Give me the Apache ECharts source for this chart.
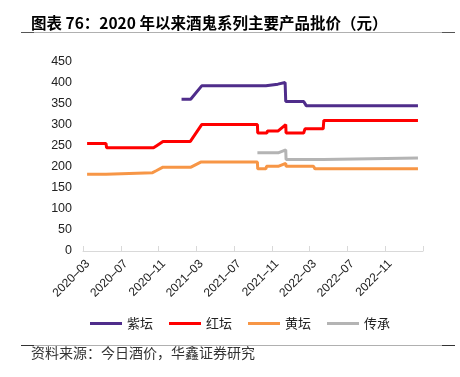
<!DOCTYPE html>
<html>
<head>
<meta charset="utf-8">
<script src="https://cdn.jsdelivr.net/npm/echarts@6/dist/echarts.min.js"></script>
<style>
html,body{margin:0;padding:0;background:#fff;}
#c{width:460px;height:377px;}
</style>
</head>
<body>
<div id="c"></div>
<script>
// ---- data ----
const title = '图表 76：2020 年以来酒鬼系列主要产品批价（元）';
const source = '资料来源：今日酒价，华鑫证券研究';
const seriesNames = ['紫坛', '红坛', '黄坛', '传承'];
const xTickLabels = ['2020–03','2020–07','2020–11','2021–03','2021–07','2021–11','2022–03','2022–07','2022–11'];
const yTicks = [0, 50, 100, 150, 200, 250, 300, 350, 400, 450];

const ziDates = ['2021-01-14','2021-02-13','2021-03-18','2021-10-12','2021-10-14','2021-11-20','2021-12-13','2021-12-15','2022-02-12','2022-02-20','2023-02-15'];
const ziVals  = [360, 360, 392, 392, 396, 396, 400, 355, 355, 345, 345];

const hongDates = ['2020-03-14','2020-05-14','2020-05-16','2020-10-15','2020-10-25','2020-11-15','2021-02-12','2021-03-18','2021-09-15','2021-09-16','2021-10-15','2021-10-17','2021-11-21','2021-12-15','2021-12-16','2022-02-12','2022-02-16','2022-04-14','2022-04-16','2023-02-15'];
const hongVals  = [255, 255, 245, 245, 250, 260, 260, 300, 300, 280, 280, 285, 285, 300, 280, 280, 290, 290, 310, 310];

const huangDates = ['2020-03-14','2020-05-14','2020-05-16','2020-10-12','2020-10-25','2020-11-15','2021-02-14','2021-03-15','2021-09-15','2021-09-16','2021-10-12','2021-10-14','2021-11-21','2021-12-15','2021-12-16','2022-03-13','2022-03-18','2023-02-15'];
const huangVals  = [182, 182, 186, 186, 191, 199, 199, 211, 211, 195, 195, 201, 201, 208, 201, 201, 195, 195];

const chuanDates = ['2021-09-15','2021-11-21','2021-12-15','2021-12-16','2022-04-14','2022-04-16','2023-02-15'];
const chuanVals  = [233, 233, 240, 217, 217, 221, 221];

const colors = ['#4f2d8b', '#ff0000', '#f79646', '#b4b4b4'];

// month index from 2020-03-01
function mi(d){ const p = d.split('-').map(Number); return (p[0]-2020)*12 + (p[1]-3) + (p[2]-1)/30; }
function pairs(ds, vs){ return ds.map((d,i)=>[mi(d), vs[i]]); }

const allSeries = [
  pairs(ziDates, ziVals),
  pairs(hongDates, hongVals),
  pairs(huangDates, huangVals),
  pairs(chuanDates, chuanVals)
];

const chart = echarts.init(document.getElementById('c'), null, {renderer:'canvas'});
const font = '"Liberation Sans", Arial, sans-serif';
const cjk = '"Noto Sans CJK SC", sans-serif';

const option = {
  animation: false,
  backgroundColor: '#fff',
  title: {
    text: title, left: 31, top: 15, padding: 0,
    textStyle: {fontFamily: cjk, fontSize: 15.5, fontWeight: 'bold', color: '#000'}
  },
  graphic: [
    {type:'line', shape:{x1:21,y1:32.5,x2:455,y2:32.5}, style:{stroke:'#b0b0b0', lineWidth:1}},
    {type:'line', shape:{x1:21,y1:32.5,x2:34,y2:32.5}, style:{stroke:'#555', lineWidth:1}},
    {type:'line', shape:{x1:442,y1:32.5,x2:455,y2:32.5}, style:{stroke:'#555', lineWidth:1}},
    {type:'line', shape:{x1:21,y1:345.5,x2:455,y2:345.5}, style:{stroke:'#b0b0b0', lineWidth:1}},
    {type:'line', shape:{x1:21,y1:345.5,x2:34,y2:345.5}, style:{stroke:'#333', lineWidth:1}},
    {type:'line', shape:{x1:442,y1:345.5,x2:455,y2:345.5}, style:{stroke:'#333', lineWidth:1}},
    {type:'text', left: 31, top: 346, style:{text: source, font: '14px "Noto Sans CJK SC", sans-serif', fill:'#333'}}
  ],
  legend: {
    data: seriesNames, left: 90, top: 317, padding: 0,
    icon: 'rect', itemWidth: 32, itemHeight: 3, itemGap: 16,
    textStyle: {fontFamily: cjk, fontSize: 13, color: '#222'}
  },
  grid: [
    {left: 83, right: 37, top: 61.4, bottom: 126},
    {left: 88, right: 32, top: 61.4, bottom: 126}
  ],
  xAxis: [
    {
      type: 'value', gridIndex: 0, min: 0, max: 36, interval: 4,
      axisLine: {show: true, lineStyle: {color: '#d9d9d9', width: 1}},
      axisTick: {show: true, inside: true, length: 5, lineStyle: {color: '#d9d9d9'}},
      axisLabel: {show: false},
      splitLine: {show: false}
    },
    {
      type: 'value', gridIndex: 1, min: 0, max: 36, interval: 4,
      axisLine: {show: false}, axisTick: {show: false}, splitLine: {show: false},
      axisLabel: {
        show: true, rotate: 45, margin: 11, showMaxLabel: false,
        fontFamily: font, fontSize: 12, color: '#222',
        formatter: v => xTickLabels[Math.round(v/4)] || ''
      }
    }
  ],
  yAxis: [
    {
      type: 'value', gridIndex: 0, min: yTicks[0], max: yTicks[yTicks.length-1], interval: 50,
      axisLine: {show: false}, axisTick: {show: false}, splitLine: {show: false},
      axisLabel: {margin: 11, fontFamily: font, fontSize: 12.5, color: '#222'}
    },
    {type: 'value', gridIndex: 1, min: 0, max: 450, show: false}
  ],
  series: allSeries.map((d, i) => ({
    name: seriesNames[i], type: 'line', data: d,
    xAxisIndex: 0, yAxisIndex: 0,
    showSymbol: false, symbol: 'none',
    lineStyle: {width: 3, color: colors[i]},
    itemStyle: {color: colors[i]},
    z: i === 0 ? 5 : 2
  }))
};
chart.setOption(option);
</script>
</body>
</html>
